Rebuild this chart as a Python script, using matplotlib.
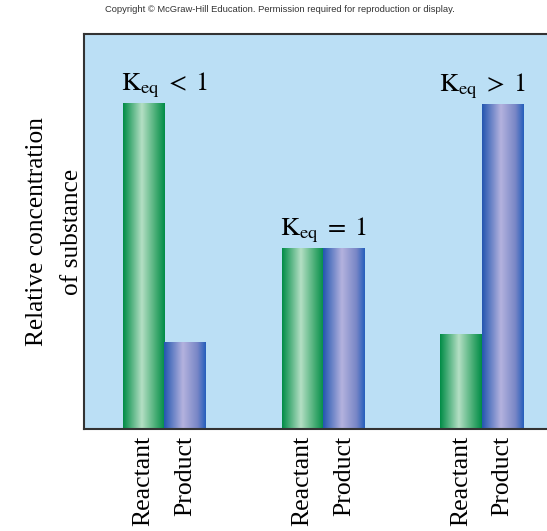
import matplotlib.pyplot as plt
import numpy as np
from matplotlib.colors import LinearSegmentedColormap

# data
groups = [r'$\mathrm{K}_{\mathrm{eq}}\;<\;1$', r'$\mathrm{K}_{\mathrm{eq}}\;=\;1$', r'$\mathrm{K}_{\mathrm{eq}}\;>\;1$']
reactant = [82.5, 45.8, 24.1]
product = [22.0, 45.8, 82.3]
bar_labels = ['Reactant', 'Product']

plt.rcParams['mathtext.fontset'] = 'stix'
serif = ['Liberation Serif', 'DejaVu Serif']

fig = plt.figure(figsize=(5.47, 5.31), dpi=100)
ax = fig.add_axes([84 / 547, 102 / 531, 1 - 84 / 547, 395 / 531])
ax.set_facecolor('#bbdff5')

green = LinearSegmentedColormap.from_list(
    'g', [(0, '#008c46'), (0.45, '#b4dfc4'), (0.8, '#40aa70'), (1, '#008c46')])
blue = LinearSegmentedColormap.from_list(
    'b', [(0, '#2356b0'), (0.45, '#b4b2de'), (0.8, '#7886c6'), (1, '#245ebc')])
grad = np.linspace(0, 1, 256).reshape(1, -1)

centers = [1.93 + 3.83 * i for i in range(len(groups))]
ticks, tick_labels = [], []
for i, c in enumerate(centers):
    for x0, h, cmap, lab in [(c - 1, reactant[i], green, bar_labels[0]),
                             (c, product[i], blue, bar_labels[1])]:
        bar = ax.bar(x0, h, width=1, align='edge', color='none', zorder=2)[0]
        im = ax.imshow(grad, cmap=cmap, aspect='auto',
                       extent=[x0, x0 + 1, 0, h], zorder=2)
        im.set_clip_path(bar)
        ticks.append(x0 + 0.5)
        tick_labels.append(lab)
    top = max(reactant[i], product[i])
    ax.text(c, top + 0.8, groups[i], ha='center', va='bottom', fontsize=19)

ax.set_xlim(0, 463 / 41.5)
ax.set_ylim(0, 100)
ax.set_xticks(ticks)
ax.set_xticklabels(tick_labels, rotation=90, fontsize=18.5, family=serif)
ax.set_yticks([])
ax.tick_params(axis='x', length=0, pad=5)
for s in ['left', 'top', 'bottom']:
    ax.spines[s].set_color('#333333')
    ax.spines[s].set_linewidth(1.5)
ax.spines['right'].set_visible(False)
ax.set_ylabel('Relative concentration\nof substance', fontsize=18.3,
              family=serif, labelpad=1, linespacing=1.75)

fig.text(0.511, 0.983, 'Copyright \u00a9 McGraw-Hill Education. Permission required for reproduction or display.',
         ha='center', va='center', fontsize=6.75, family='Liberation Sans', color='#333333')

fig.savefig('out.png', dpi=100)
